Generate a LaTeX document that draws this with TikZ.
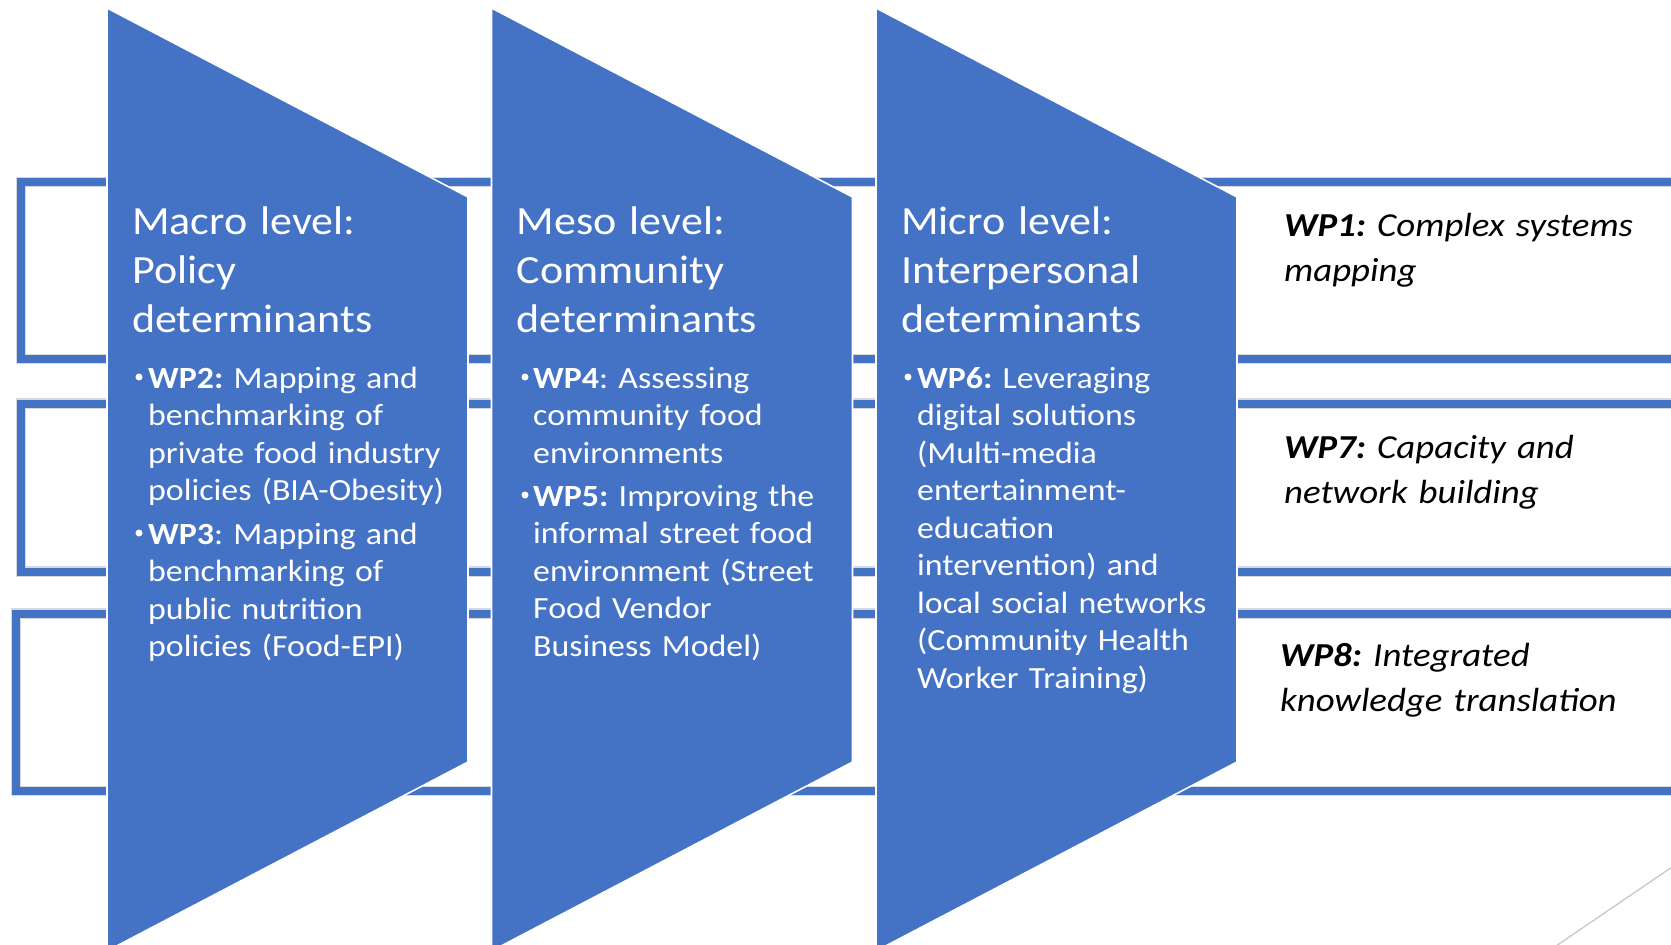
\documentclass[tikz,border=0pt]{standalone}
\usepackage{fontspec}
\setmainfont{Carlito}[FakeStretch=1.1]
\definecolor{ablue}{HTML}{4472C4}
\definecolor{halo}{HTML}{D4D8E0}
\definecolor{edgegray}{HTML}{C8C8C8}
\begin{document}
\frenchspacing
\begin{tikzpicture}[x=1pt,y=-1pt,
  bandhalo/.style={draw=halo, line width=10.5pt},
  bandline/.style={draw=ablue, line width=8pt},
  lvl/.style={fill=ablue, draw=white, line width=1.6pt, line join=miter},
  ttl/.style={text=white, anchor=base west, inner sep=0pt, text width=400pt, align=left,
              font=\frenchspacing\fontsize{40}{49}\selectfont},
  body/.style={text=white, anchor=base west, inner sep=0pt, text width=400pt, align=left,
              font=\frenchspacing\fontsize{30.8}{37.5}\selectfont},
  wptext/.style={text=black, anchor=base west, inner sep=0pt, text width=400pt, align=left,
              font=\frenchspacing\fontsize{33.5}{45}\selectfont\itshape},
  bul/.style={circle, fill=white, inner sep=0pt, minimum size=7pt}]
\useasboundingbox (0,0) rectangle (1671,945);
\clip (0,0) rectangle (1671,945);
\fill[white] (0,0) rectangle (1671,945);
% bands
\draw[bandhalo] (21,182) rectangle (1720,359);
\draw[bandline] (21,182) rectangle (1720,359);
\draw[bandhalo] (21,403.5) rectangle (1720,571.5);
\draw[bandline] (21,403.5) rectangle (1720,571.5);
\draw[bandhalo] (16,613.5) rectangle (1720,791);
\draw[bandline] (16,613.5) rectangle (1720,791);
% level shapes
\path[lvl] (107,8) -- (468,197) -- (468,762) -- (107,951) -- cycle;
\path[lvl] (491.5,8) -- (852.5,197) -- (852.5,762) -- (491.5,951) -- cycle;
\path[lvl] (876,8) -- (1237,197) -- (1237,762) -- (876,951) -- cycle;
% titles
\node[ttl] (t1) at (132,234) {Macro level:\\Policy\\determinants};
\node[ttl] (t2) at (516.5,234) {Meso level:\\Community\\determinants};
\node[ttl] (t3) at (901,234) {Micro level:\\Interpersonal\\determinants};
% bullets
\node[bul] (d2) at (139,377) {};
\node[bul] (d3) at (139,533) {};
\node[bul] (d4) at (525,377) {};
\node[bul] (d5) at (525,495) {};
\node[bul] (d6) at (908,377) {};
% body texts
\node[body] (b2) at (148,388) {\textbf{WP2:} Mapping and\\benchmarking of\\private food industry\\policies (BIA-Obesity)};
\node[body] (b3) at (148,544) {\textbf{WP3}: Mapping and\\benchmarking of\\public nutrition\\policies (Food-EPI)};
\node[body] (b4) at (533,388) {\textbf{WP4}: Assessing\\community food\\environments};
\node[body] (b5) at (533,506) {\textbf{WP5:} Improving the\\informal street food\\environment (Street\\Food Vendor\\Business Model)};
\node[body] (b6) at (917,388) {\textbf{WP6:} Leveraging\\digital solutions\\(Multi-media\\entertainment-\\education\\intervention) and\\local social networks\\(Community Health\\Worker Training)};
% right-hand work packages
\node[wptext] (w1) at (1284,236) {\textbf{WP1:} Complex systems\\mapping};
\node[wptext] (w7) at (1284,458) {\textbf{WP7:} Capacity and\\network building};
\node[wptext] (w8) at (1280,666) {\textbf{WP8:} Integrated\\knowledge translation};
% thin edge line bottom right
\coordinate (g1) at (1556,946);
\coordinate (g2) at (1672,867);
\draw[edgegray, line width=1.3pt] (g1) -- (g2);
\end{tikzpicture}
\end{document}
